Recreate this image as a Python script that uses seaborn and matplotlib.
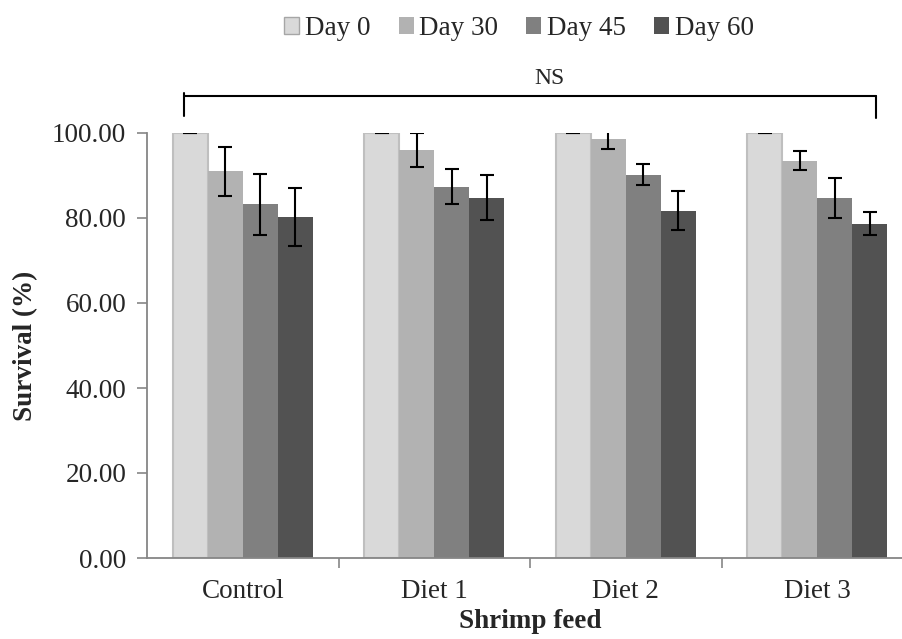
import matplotlib
matplotlib.use("Agg")
import matplotlib.pyplot as plt
import seaborn as sns
import pandas as pd
import numpy as np

groups = ["Control", "Diet 1", "Diet 2", "Diet 3"]
days = ["Day 0", "Day 30", "Day 45", "Day 60"]
day0 = [100.0, 100.0, 100.0, 100.0]
day30 = [91.0, 96.0, 98.6, 93.5]
day45 = [83.2, 87.4, 90.2, 84.7]
day60 = [80.2, 84.8, 81.7, 78.7]
sd0 = [0.0, 0.0, 0.0, 0.0]
sd30 = [5.8, 3.9, 2.3, 2.2]
sd45 = [7.2, 4.2, 2.5, 4.8]
sd60 = [6.9, 5.2, 4.6, 2.6]
colors = ["#d9d9d9", "#b2b2b2", "#808080", "#525252"]

sns.set_theme(style="white")
plt.rcParams["font.family"] = ["Liberation Serif", "DejaVu Serif"]
FS = 19.5

vals = [day0, day30, day45, day60]
sds = [sd0, sd30, sd45, sd60]
rows = []
for d, v, s in zip(days, vals, sds):
    for g, vv, ss in zip(groups, v, s):
        rows.append({"group": g, "day": d, "value": vv, "sd": ss})
df = pd.DataFrame(rows)

fig = plt.figure(figsize=(9.02, 6.39), dpi=100)
ax = fig.add_axes([147 / 902, (639 - 558) / 639, 766 / 902, 425 / 639])

sns.barplot(data=df, x="group", y="value", hue="day", order=groups,
            hue_order=days, palette=colors, width=0.732, gap=0,
            errorbar=None, ax=ax, legend=True, linewidth=0, saturation=1)

for cont, d in zip(ax.containers, days):
    sub = df[df["day"] == d].set_index("group").loc[groups]
    xs = [p.get_x() + p.get_width() / 2 for p in cont.patches]
    if d == "Day 0":
        for p in cont.patches:
            p.set_edgecolor("#bfbfbf")
            p.set_linewidth(1.5)
    ax.errorbar(xs, sub["value"].values, yerr=sub["sd"].values, fmt="none",
                ecolor="black", elinewidth=1.5, capsize=5, capthick=1.5,
                zorder=5, clip_on=True)

ax.set_ylim(0, 100)
ax.set_xlim(-0.5, 3.5)
ax.set_yticks(np.arange(0, 101, 20))
ax.set_yticklabels([f"{t:.2f}" for t in np.arange(0, 101, 20)], fontsize=FS)
ax.set_xticks([0.5, 1.5, 2.5], minor=False)
ax.set_xticks([0, 1, 2, 3], minor=True)
ax.set_xticklabels([], minor=False)
ax.set_xticklabels(groups, minor=True, fontsize=FS)
ax.tick_params(axis="x", which="minor", length=0, pad=15)
ax.tick_params(axis="x", which="major", length=7, width=1.2, color="#868686", direction="out", bottom=True)
ax.tick_params(axis="y", length=7, width=1.2, color="#868686", direction="out", left=True, pad=8)
for s in ["top", "right"]:
    ax.spines[s].set_visible(False)
for s in ["left", "bottom"]:
    ax.spines[s].set_color("#868686")
    ax.spines[s].set_linewidth(1.3)

ax.set_ylabel("Survival (%)", fontsize=FS, fontweight="bold", labelpad=10)
ax.set_xlabel("Shrimp feed", fontsize=FS, fontweight="bold", labelpad=4)

# NS bracket
bx0, bx1, by, byl, byr, byt = -0.305, 3.307, 108.6, 104.1, 103.6, 109.4
ax.plot([bx0, bx1], [by, by], color="black", lw=1.5, clip_on=False)
ax.plot([bx0, bx0], [byl, byt], color="black", lw=1.5, clip_on=False)
ax.plot([bx1, bx1], [byr, by], color="black", lw=1.5, clip_on=False)
ax.text(1.603, 110.3, "NS", ha="center", va="bottom", fontsize=FS - 2.5)

h, l = ax.get_legend_handles_labels()
ax.get_legend().remove()
leg = fig.legend(h, l, loc="upper center", bbox_to_anchor=(519 / 902, 1.013), ncol=4,
                 frameon=False, fontsize=FS, handlelength=0.55, handleheight=0.55,
                 handletextpad=0.2, columnspacing=1.05)
leg.legend_handles[0].set_edgecolor("#a6a6a6")
leg.legend_handles[0].set_linewidth(1.0)

fig.savefig("out.png", dpi=100)
